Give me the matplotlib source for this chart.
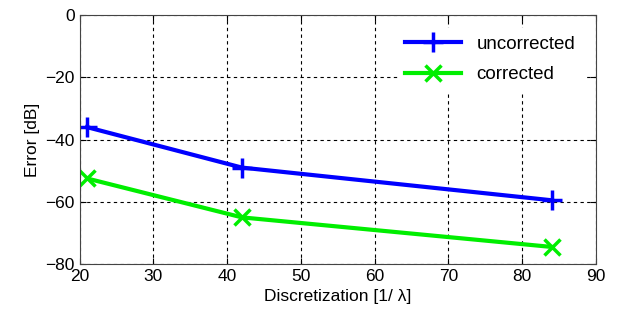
import matplotlib
matplotlib.use("Agg")
import matplotlib.pyplot as plt

plt.rcParams['font.family'] = ['Liberation Sans', 'DejaVu Sans']

discretization = [21, 42, 84]
uncorrected = [-36, -49, -59.5]
corrected = [-52.5, -65, -74.5]

fig = plt.figure(figsize=(6.18, 3.22), dpi=100)
ax = fig.add_axes([0.129, 0.180, 0.835, 0.773])

ax.plot(discretization, uncorrected, color='#0000ff', linewidth=3, marker='+',
        markersize=15, markeredgewidth=2.5, label='uncorrected')
ax.plot(discretization, corrected, color='#00ee00', linewidth=3, marker='x',
        markersize=11, markeredgewidth=2.5, label='corrected')

ax.set_xlim(20, 90)
ax.set_ylim(-80, 0)
ax.set_xticks(range(20, 91, 10))
ax.set_yticks(range(-80, 1, 20))
ax.grid(True, color='black', linestyle=(0, (3, 3)), linewidth=0.8)
ax.tick_params(direction='in', labelsize=12.5, length=4, top=True, right=True)
for s in ax.spines.values():
    s.set_color('#444444')

ax.set_xlabel('Discretization [1/ λ]', fontsize=12.5)
ax.set_ylabel('Error [dB]', fontsize=12.5)

leg = ax.legend(loc='upper right', fontsize=13.5, frameon=True, handlelength=3,
                labelspacing=0.7, borderaxespad=0.7, fancybox=False)
leg.get_frame().set_edgecolor('white')
leg.get_frame().set_alpha(1)

fig.savefig('out.png', dpi=100)
